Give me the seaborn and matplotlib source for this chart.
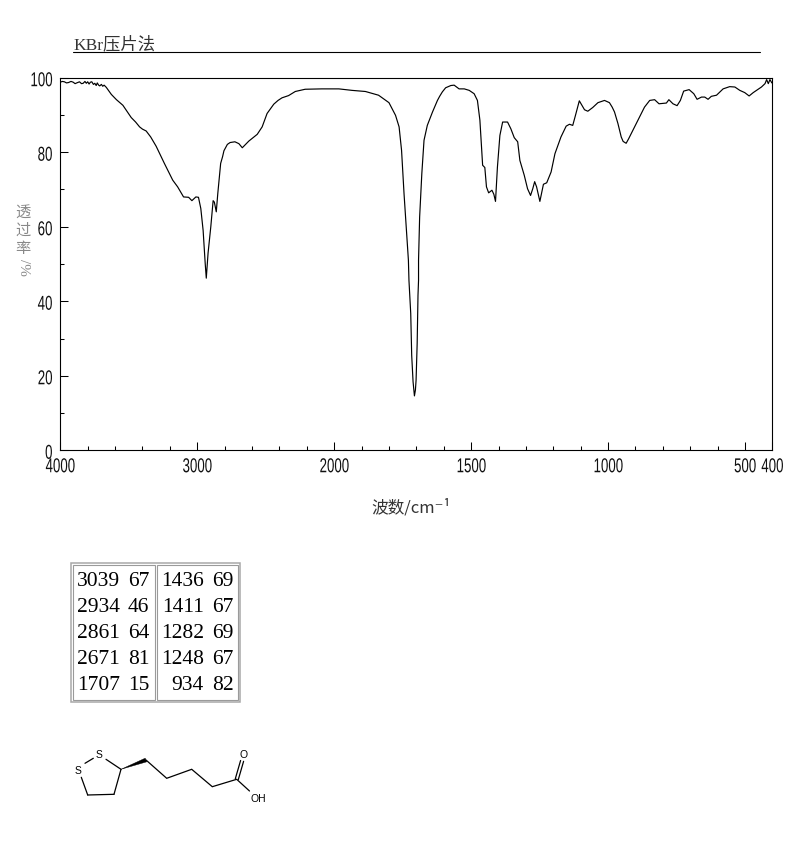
import numpy as np
import pandas as pd
import matplotlib
matplotlib.use('Agg')
import matplotlib.pyplot as plt
import seaborn as sns
from matplotlib.patches import Rectangle, Polygon
from matplotlib.patheffects import AbstractPathEffect
from matplotlib.ticker import FixedLocator, FixedFormatter
from matplotlib.transforms import Affine2D

# spectrum
wavenumber = [4000, 3985, 3970, 3955, 3940, 3922, 3906, 3892, 3880, 3860, 3845, 3833, 3820, 3810, 3800, 3790, 3780,
              3770, 3758, 3748, 3738, 3730, 3720, 3712, 3700, 3690, 3680, 3664,
              3627, 3590, 3543, 3510, 3482, 3450, 3421, 3400, 3373, 3340, 3300, 3240, 3179, 3143, 3100, 3063,
              3039, 3010, 2991, 2974, 2957,
              2942, 2934, 2921, 2901, 2884, 2875, 2861, 2850, 2829, 2815, 2805, 2780, 2760, 2725, 2696, 2671,
              2623, 2562, 2526, 2490, 2470, 2441, 2410, 2381, 2333, 2284, 2212, 2090, 1983, 1935, 1886, 1838,
              1800, 1776, 1763, 1754,
              1745, 1737, 1729, 1727, 1720.5, 1717, 1712, 1707, 1703.4, 1701, 1697, 1694, 1692, 1692, 1688, 1680,
              1672, 1660, 1641, 1623, 1615, 1605, 1593, 1580, 1574, 1562, 1544, 1525, 1507, 1489, 1477, 1468,
              1463, 1458,
              1450, 1444, 1436, 1424, 1417, 1411, 1404, 1395, 1385, 1367, 1355, 1342.5, 1330, 1322, 1306, 1294,
              1283, 1275, 1268, 1261, 1249, 1236, 1224, 1208, 1194, 1172, 1153, 1141, 1129, 1119, 1105, 1086,
              1074, 1056, 1037, 1013, 995, 985, 976.5, 964, 952, 945, 934, 925, 915.5, 891, 867, 848, 830, 814, 787,
              778, 763, 748, 736, 724, 704, 687, 675, 659, 647, 635, 623, 604, 580, 556, 537,
              519, 501, 485, 470, 458, 440, 427, 421, 415, 409, 402]
transmittance = [98.8, 99.0, 98.9, 98.6, 98.7, 99.0, 98.8, 98.4, 98.6, 98.9, 98.4, 98.5, 99.0, 98.5, 98.9, 98.3, 98.8,
                 98.9, 98.2, 98.5, 97.9, 98.6, 98.0, 97.8, 98.2, 97.7, 98.0, 97.4,
                 95.5, 94.1, 92.6, 90.8, 89.3, 88.1, 86.8, 86.2, 85.7, 84.1, 81.6, 77.0, 72.5, 70.7, 68.0, 67.9,
                 67.0, 68.0, 67.9, 64.9, 59.0,
                 50.2, 46.2, 52.9, 60.0, 67.0, 66.6, 64.0, 68.9, 77.0, 78.8, 80.4, 82.1, 82.6, 82.8, 82.3, 81.2,
                 83.0, 84.8, 86.8, 90.4, 91.4, 92.9, 93.9, 94.6, 95.2, 96.3, 96.9, 97.0, 97.0, 96.6, 96.3, 95.3,
                 93.3, 89.9, 86.8, 80.5,
                 68.9, 60.0, 51.0, 45.6, 36.7, 25.5, 18.4, 14.6, 16.2, 18.8, 28.7, 41.6, 45.6, 51.0, 62.6, 74.3,
                 83.2, 87.2, 90.8, 93.9, 95.0, 96.2, 97.3, 97.7, 97.9, 98.0, 97.0, 97.0, 96.6, 95.7, 93.9, 88.6,
                 82.3, 76.5,
                 75.9, 70.7, 69.1, 69.8, 68.7, 66.8, 76.0, 84.5, 88.1, 88.1, 86.3, 83.9, 82.8, 77.8, 73.8, 70.2,
                 68.4, 70.2, 72.1, 70.7, 66.8, 71.4, 71.8, 74.7, 79.6, 84.1, 87.0, 87.5, 87.2, 89.9, 93.8, 91.4,
                 91.0, 92.0, 93.3, 93.9, 93.3, 92.1, 90.8, 87.7, 84.1, 82.9, 82.4, 83.6, 85.0, 88.6, 92.1, 93.9, 94.1, 93.0, 93.2,
                 94.1, 93.0, 92.5, 93.9, 96.4, 96.8, 95.7, 94.2, 94.8, 94.8, 94.2, 95.0, 95.3, 97.0, 97.6, 97.5,
                 96.6, 96.0, 95.1, 96.0, 96.6, 97.5, 98.4, 99.5, 98.4, 99.5, 98.6]

x_major = [4000, 3000, 2000, 1500, 1000, 500, 400]
x_labels = ['4000', '3000', '2000', '1500', '1000', '500', '400']
x_minor = [3800, 3600, 3400, 3200, 2800, 2600, 2400, 2200, 1900, 1800, 1700, 1600,
           1400, 1300, 1200, 1100, 900, 800, 700, 600]
y_major = [0, 20, 40, 60, 80, 100]
y_minor = [10, 30, 50, 70, 90]

# peak table, two columns
peaks_left = ['3039', '2934', '2861', '2671', '1707']
vals_left = ['67', '46', '64', '81', '15']
peaks_right = ['1436', '1411', '1282', '1248', '934']
vals_right = ['69', '67', '69', '67', '82']
row_y = [580, 606, 632, 658, 684]

W, H = 794, 850
sns.set_theme(style='white')
plt.rcParams['font.family'] = ['Liberation Sans', 'DejaVu Sans']
cjk = ['Noto Sans CJK SC', 'DejaVu Sans']


class Narrow(AbstractPathEffect):
    # squeezes glyphs sideways, the tick labels in the original are a tall thin font
    def __init__(self, sx, anchor='center', dy=0):
        super().__init__()
        self.sx, self.anchor, self.dy = sx, anchor, dy

    def draw_path(self, renderer, gc, tpath, affine, rgbFace=None):
        box = tpath.get_extents()
        cx = box.x1 if self.anchor == 'right' else (box.x0 + box.x1) / 2
        m = Affine2D().translate(-cx, 0).scale(self.sx, 1).translate(cx, 0)
        renderer.draw_path(gc, tpath, m + affine + Affine2D().translate(0, self.dy), rgbFace)


# x axis is twice as wide per wavenumber below 2000
def fwd(x):
    x = np.asarray(x, dtype=float)
    return np.where(x >= 2000, (x - 2000) / 2, x - 2000)


def inv(v):
    v = np.asarray(v, dtype=float)
    return np.where(v >= 0, v * 2 + 2000, v + 2000)


fig = plt.figure(figsize=(W / 100, H / 100), dpi=100)

# overlay in pixel coordinates for the header, table and structure
page = fig.add_axes([0, 0, 1, 1])
page.set_xlim(0, W)
page.set_ylim(H, 0)
page.axis('off')

ax = fig.add_axes([60.3 / W, 1 - 450.3 / H, (772.4 - 60.3) / W, (450.3 - 77.7) / H])
ax.patch.set_alpha(0)
df = pd.DataFrame({'wn': wavenumber, 't': transmittance})
sns.lineplot(data=df, x='wn', y='t', ax=ax, sort=False, estimator=None, errorbar=None,
             color='black', linewidth=0.85)
ax.set_xscale('function', functions=(fwd, inv))
ax.set_xlim(4000, 400)
ax.set_ylim(0, 100)
ax.xaxis.set_major_locator(FixedLocator(x_major))
ax.xaxis.set_major_formatter(FixedFormatter(x_labels))
ax.xaxis.set_minor_locator(FixedLocator(x_minor))
ax.yaxis.set_major_locator(FixedLocator(y_major))
ax.yaxis.set_minor_locator(FixedLocator(y_minor))
ax.tick_params(axis='both', which='major', direction='in', length=5.8, width=0.75, color='black',
               labelsize=14.5, labelcolor='#111111', bottom=True, left=True)
ax.tick_params(axis='both', which='minor', direction='in', length=2.9, width=0.75, color='black',
               bottom=True, left=True)
ax.tick_params(axis='x', pad=5)
ax.tick_params(axis='y', pad=5.5)
ax.set_xlabel('')
ax.set_ylabel('')
for lab in ax.get_xticklabels():
    lab.set_path_effects([Narrow(0.66)])
for lab in ax.get_yticklabels():
    lab.set_path_effects([Narrow(0.66, anchor='right', dy=-1)])
for s in ax.spines.values():
    s.set_visible(True)
    s.set_color('black')
    s.set_linewidth(0.8)

# header
page.text(73, 44.5, 'KBr压片法', family=['Liberation Serif', 'Noto Sans CJK SC'], fontsize=12.5,
          color='#333333', va='center', ha='left')
page.plot([73, 760], [51.5, 51.5], color='black', lw=0.8)

# axis titles, the y one is stacked by hand
for yc, ch in zip([212, 230, 248], ['透', '过', '率']):
    page.text(23, yc, ch, family=cjk, fontsize=11, color='#888888', ha='center', va='center')
page.text(23, 267, '/%', family='Liberation Serif', fontsize=11, color='#888888', ha='center', va='center',
          rotation=-90)
page.text(411, 508, '波数/cm⁻¹', family=cjk, fontsize=12, color='#333333', ha='center', va='center')

# table frames
page.add_patch(Rectangle((70.7, 562.7), 169.6, 139.6, fill=False, ec='#a8a8a8', lw=1.1))
page.add_patch(Rectangle((72.7, 564.7), 82.6, 135.6, fill=False, ec='#9a9a9a', lw=0.8))
page.add_patch(Rectangle((156.7, 564.7), 81.6, 135.6, fill=False, ec='#9a9a9a', lw=0.8))
for y, a, b, c, d in zip(row_y, peaks_left, vals_left, peaks_right, vals_right):
    for xr, s in zip([120, 149.5, 204, 233.5], [a, b, c, d]):
        page.text(xr, y + 2, s, family='Liberation Serif', fontsize=15.5, color='black', ha='right', va='center')

# structure of lipoic acid
ring_bonds = [[(106, 759.3), (121, 769.3)], [(121, 769.3), (114, 794.3)], [(114, 794.3), (87.7, 795)],
              [(87.7, 795), (81.3, 777.3)], [(85, 763.3), (93.3, 758.3)]]
chain = [(146, 760), (166.7, 778.3), (191.7, 769.3), (212.3, 786.7), (236.7, 779.3), (249.5, 791)]
for b in ring_bonds:
    page.plot([p[0] for p in b], [p[1] for p in b], color='black', lw=0.9)
page.plot([p[0] for p in chain], [p[1] for p in chain], color='black', lw=0.9, solid_joinstyle='miter')
page.plot([235.3, 240.6], [778.8, 760.5], color='black', lw=0.9)
page.plot([238.3, 243.6], [779.6, 761.3], color='black', lw=0.9)
page.add_patch(Polygon([(121, 769.3), (145.2, 758.2), (146.8, 761.8)], closed=True, fc='black', ec='black', lw=0.3))
for xt, yt, s in [(99.3, 755, 'S'), (78, 771.3, 'S'), (243.3, 755, 'O'), (258, 799.3, 'OH')]:
    page.text(xt, yt, s, family='Liberation Sans', fontsize=7.5, color='black', ha='center', va='center')

fig.savefig('out.png', dpi=100)
print("Saved: out.png")
